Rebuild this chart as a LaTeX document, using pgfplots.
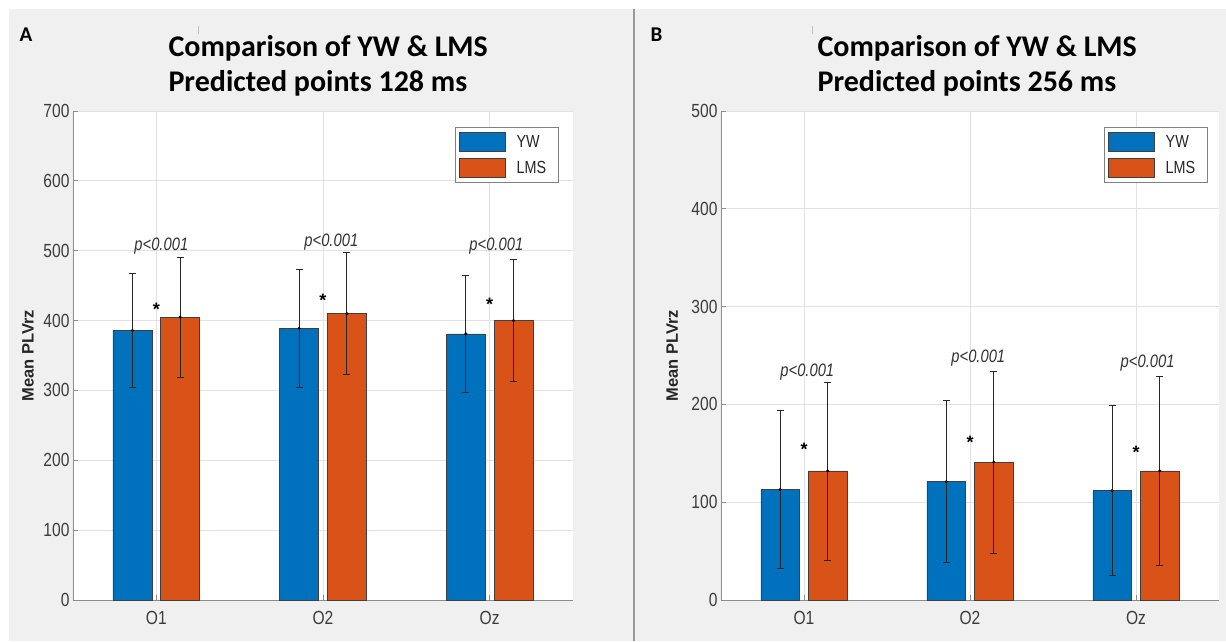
\documentclass[border=0pt]{standalone}
\usepackage{pgfplots}
\pgfplotsset{compat=1.18}
\usepackage{fontspec}
\setmainfont{Liberation Sans}
\newfontfamily\ticksf[FakeStretch=0.82]{Liberation Sans}
\newfontfamily\titlesf{Carlito}

\definecolor{ywblue}{HTML}{0072BD}
\definecolor{lmsred}{HTML}{D95319}
\definecolor{figgray}{HTML}{F0F0F0}
\definecolor{gridgray}{HTML}{E2E2E2}
\definecolor{axisgray}{HTML}{8C8C8C}
\definecolor{ticktext}{HTML}{3C3C3C}

\tikzset{
  ptext/.style={font=\ticksf\itshape\fontsize{18pt}{20pt}\selectfont, text=black!80},
  star/.style={font=\bfseries\fontsize{18pt}{20pt}\selectfont, anchor=base, yshift=-10pt},
}

\pgfplotsset{
  panel/.style={
    scale only axis, height=489pt,
    xmin=0.5, xmax=3.5, ymin=0,
    xtick={1,2,3}, xticklabels={O1,O2,Oz},
    axis x line*=bottom, axis y line*=left,
    axis line style={axisgray, line width=0.8pt},
    tick align=inside, major tick length=5pt,
    tick style={axisgray, line width=0.8pt},
    xmajorgrids, ymajorgrids,
    grid style={gridgray, line width=0.8pt},
    axis background/.style={fill=white},
    tick label style={font=\ticksf\fontsize{19pt}{21pt}\selectfont, text=ticktext},
    /pgf/number format/assume math mode=true,
    xticklabel style={yshift=-8pt},
    ylabel={Mean PLVrz},
    ylabel style={font=\bfseries\fontsize{16.5pt}{18pt}\selectfont, text=black!85, anchor=center},
    legend cell align=left,
    legend style={anchor=north east, draw=black!50, line width=0.7pt, fill=white,
      font=\ticksf\fontsize{17.5pt}{19pt}\selectfont, text=black!85,
      inner xsep=4pt, inner ysep=5pt, row sep=6pt,
      nodes={inner sep=0pt},
      /tikz/every odd column/.append style={column sep=11pt}},
    clip=false,
  },
  barbase/.style={ybar, bar width=0.234, bar shift=0pt, draw=black!75, line width=0.6pt,
    legend image code/.code={\draw[##1] (0pt,-9.5pt) rectangle (46pt,9.5pt);}},
  errs/.style={forget plot, only marks, mark=*, mark size=1.3pt, black,
    error bars/.cd, y dir=both, y explicit, error mark=-,
    error bar style={black!85, line width=0.7pt},
    error mark options={rotate=90, black!85, line width=0.7pt, mark size=3.5pt}},
}

\begin{document}
\begin{tikzpicture}
\useasboundingbox (0pt,0pt) rectangle (1226pt,641pt);
% figure backgrounds and divider
\fill[white] (0pt,0pt) rectangle (1226pt,641pt);
\fill[figgray] (9pt,0pt) rectangle (633pt,632pt);
\fill[figgray] (635pt,0pt) rectangle (1226pt,632pt);
\draw[black!40, line width=2pt] (634pt,0pt) -- (634pt,632pt);
\draw[black!25, line width=0.8pt] (198pt,607pt) -- (198pt,615pt);
\draw[black!25, line width=0.8pt] (812pt,607pt) -- (812pt,615pt);

% panel labels and titles
\node[anchor=base west, font=\titlesf\bfseries\fontsize{21pt}{24pt}\selectfont] at (16pt,599pt) {A};
\node[anchor=base west, font=\titlesf\bfseries\fontsize{21pt}{24pt}\selectfont] at (647pt,599pt) {B};
\node[anchor=base west, font=\titlesf\bfseries\fontsize{30pt}{34pt}\selectfont] at (165pt,584pt) {Comparison of YW \& LMS};
\node[anchor=base west, font=\titlesf\bfseries\fontsize{30pt}{34pt}\selectfont] at (165pt,549pt) {Predicted points 128 ms};
\node[anchor=base west, font=\titlesf\bfseries\fontsize{30pt}{34pt}\selectfont] at (814pt,584pt) {Comparison of YW \& LMS};
\node[anchor=base west, font=\titlesf\bfseries\fontsize{30pt}{34pt}\selectfont] at (814pt,549pt) {Predicted points 256 ms};

% Panel A: 128 ms
\begin{axis}[panel, at={(73pt,41pt)}, anchor=south west, width=500pt,
  ymax=700, ytick={0,100,...,700},
  ylabel style={at={(axis description cs:-0.09,0.5)}},
  legend style={at={(0.972,0.967)}}]
\addplot[barbase, fill=ywblue] coordinates {(0.857,386) (1.857,389) (2.857,381)};
\addlegendentry{\makebox[38pt][l]{YW}}
\addplot[barbase, fill=lmsred] coordinates {(1.143,405) (2.143,410) (3.143,400)};
\addlegendentry{\makebox[38pt][l]{LMS}}
\addplot[errs] coordinates {(0.857,386) +- (0,81) (1.857,389) +- (0,84) (2.857,381) +- (0,84)};
\addplot[errs] coordinates {(1.143,405) +- (0,86) (2.143,410) +- (0,87) (3.143,400) +- (0,87)};
\node[ptext] at (axis cs:1.03,507) {p<0.001};
\node[ptext] at (axis cs:2.05,512) {p<0.001};
\node[ptext] at (axis cs:3.04,507) {p<0.001};
\node[star] at (axis cs:1,422) {*};
\node[star] at (axis cs:2,434) {*};
\node[star] at (axis cs:3,429) {*};
\end{axis}

% Panel B: 256 ms
\begin{axis}[panel, at={(721pt,41pt)}, anchor=south west, width=498pt,
  ymax=500, ytick={0,100,...,500},
  ylabel style={at={(axis description cs:-0.098,0.5)}},
  legend style={at={(0.978,0.967)}}]
\addplot[barbase, fill=ywblue] coordinates {(0.857,113) (1.857,121) (2.857,112)};
\addlegendentry{\makebox[38pt][l]{YW}}
\addplot[barbase, fill=lmsred] coordinates {(1.143,132) (2.143,141) (3.143,132)};
\addlegendentry{\makebox[38pt][l]{LMS}}
\addplot[errs] coordinates {(0.857,113) +- (0,81) (1.857,121) +- (0,83) (2.857,112) +- (0,87)};
\addplot[errs] coordinates {(1.143,132) +- (0,91) (2.143,141) +- (0,93) (3.143,132) +- (0,97)};
\node[ptext] at (axis cs:1.02,233) {p<0.001};
\node[ptext] at (axis cs:2.05,247) {p<0.001};
\node[ptext] at (axis cs:3.07,242) {p<0.001};
\node[star] at (axis cs:1,158) {*};
\node[star] at (axis cs:2,165) {*};
\node[star] at (axis cs:3,155) {*};
\end{axis}
\end{tikzpicture}
\end{document}
